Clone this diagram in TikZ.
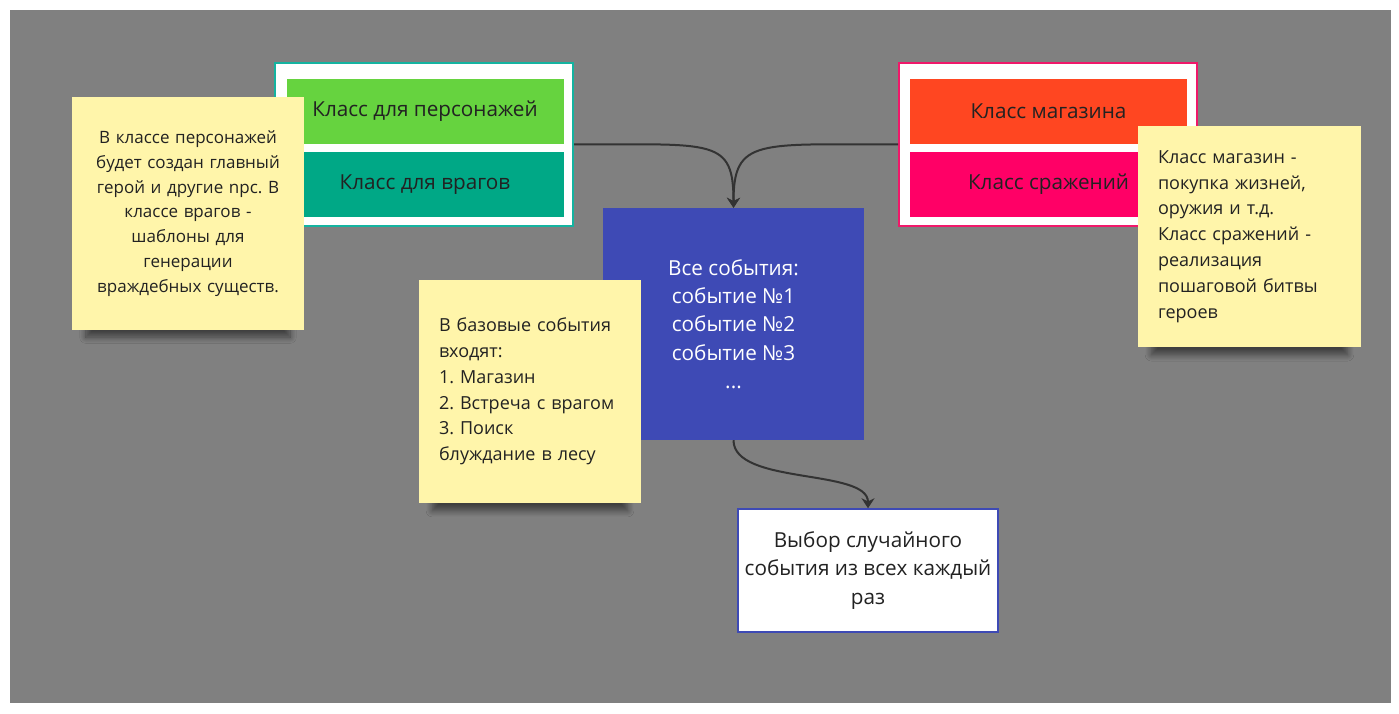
\documentclass[tikz,border=0pt]{standalone}
\usepackage{fontspec}
\setmainfont{Open Sans}
\frenchspacing
\usetikzlibrary{arrows.meta,shadows.blur}
\definecolor{bggray}{HTML}{808080}
\definecolor{stickyyellow}{HTML}{FFF5AA}
\definecolor{herogreen}{HTML}{66D33F}
\definecolor{enemyteal}{HTML}{00A886}
\definecolor{frameteal}{HTML}{14B3A0}
\definecolor{shoporange}{HTML}{FF4621}
\definecolor{fightpink}{HTML}{FF0066}
\definecolor{framepink}{HTML}{F0186A}
\definecolor{eventblue}{HTML}{3E4AB5}
\definecolor{inkgray}{HTML}{222222}
\definecolor{arrowgray}{HTML}{333333}
\begin{document}
\begin{tikzpicture}[x=1pt,y=-1pt]
	\tikzstyle{frame} = [rectangle, fill=white, line width=2pt, minimum width=298pt, minimum height=163pt, inner sep=0pt]
	\tikzstyle{class_i} = [rectangle, minimum width=277pt, minimum height=65pt, inner sep=0pt, text=inkgray, font=\fontsize{20.7}{28}\selectfont]
	\tikzstyle{sticky} = [rectangle, fill=stickyyellow, inner sep=20pt, text=inkgray, font=\fontsize{18}{25.8}\selectfont,
		blur shadow={shadow xshift=0pt, shadow yshift=-24pt, shadow scale=0.88, shadow blur radius=7pt, shadow blur steps=10, shadow opacity=50}]
	\tikzstyle{edge} = [line width=2pt, draw=arrowgray, -{Stealth[length=10pt,width=13pt]}]

	\useasboundingbox (0,0) rectangle (1399,714);
	\fill[bggray] (10,10) rectangle (1391,703);

	% class groups
	\node[frame, draw=frameteal] (heroframe) at (424,144.5) {};
	\node[frame, draw=framepink] (shopframe) at (1048,144.5) {};
	\foreach \name/\x/\y/\col/\txt in {hero/425/111.5/herogreen/Класс для персонажей, enemy/425/184.5/enemyteal/Класс для врагов,
		shop/1048.5/111.5/shoporange/Класс магазина, fight/1048.5/184.5/fightpink/Класс сражений}
		\node[class_i, fill=\col] (\name) at (\x,\y) {\txt};

	% events
	\node[rectangle, fill=eventblue, minimum width=261pt, minimum height=232pt, text=white, align=center,
		font=\fontsize{20.7}{28.3}\selectfont] (events) at (733.5,324)
		{Все события:\\событие №1\\событие №2\\событие №3\\...};
	\node[rectangle, fill=white, draw=eventblue, line width=1.5pt, minimum width=260pt, minimum height=123pt, text=inkgray,
		align=center, font=\fontsize{20.7}{28.5}\selectfont] (choice) at (868,570.5)
		{Выбор случайного\\события из всех каждый\\раз};

	\draw[edge] (heroframe.east) .. controls +(140,0) and +(0,-70) .. (events.north);
	\draw[edge] (shopframe.west) .. controls +(-140,0) and +(0,-70) .. (events.north);
	\draw[edge] (events.south) .. controls +(0,45) and +(0,-40) .. (choice.north);

	% notes
	\node[sticky, minimum width=232pt, minimum height=233pt, text width=192pt, align=center,
		font=\fontsize{17}{24.8}\selectfont] (heronote) at (188,213.5)
		{В классе персонажей\\будет создан главный\\герой и другие npc. В\\классе врагов -\\шаблоны для\\генерации\\враждебных существ.};
	\node[sticky, minimum width=222pt, minimum height=223pt, text width=182pt, align=left] (eventnote) at (530,391.5)
		{В базовые события\\входят:\\1. Магазин\\2. Встреча с врагом\\3. Поиск\\блуждание в лесу};
	\node[sticky, minimum width=223pt, minimum height=221pt, text width=183pt, align=left] (shopnote) at (1249.5,236.5)
		{Класс магазин -\\покупка жизней,\\оружия и т.д.\\Класс сражений -\\реализация\\пошаговой битвы\\героев};
\end{tikzpicture}
\end{document}
